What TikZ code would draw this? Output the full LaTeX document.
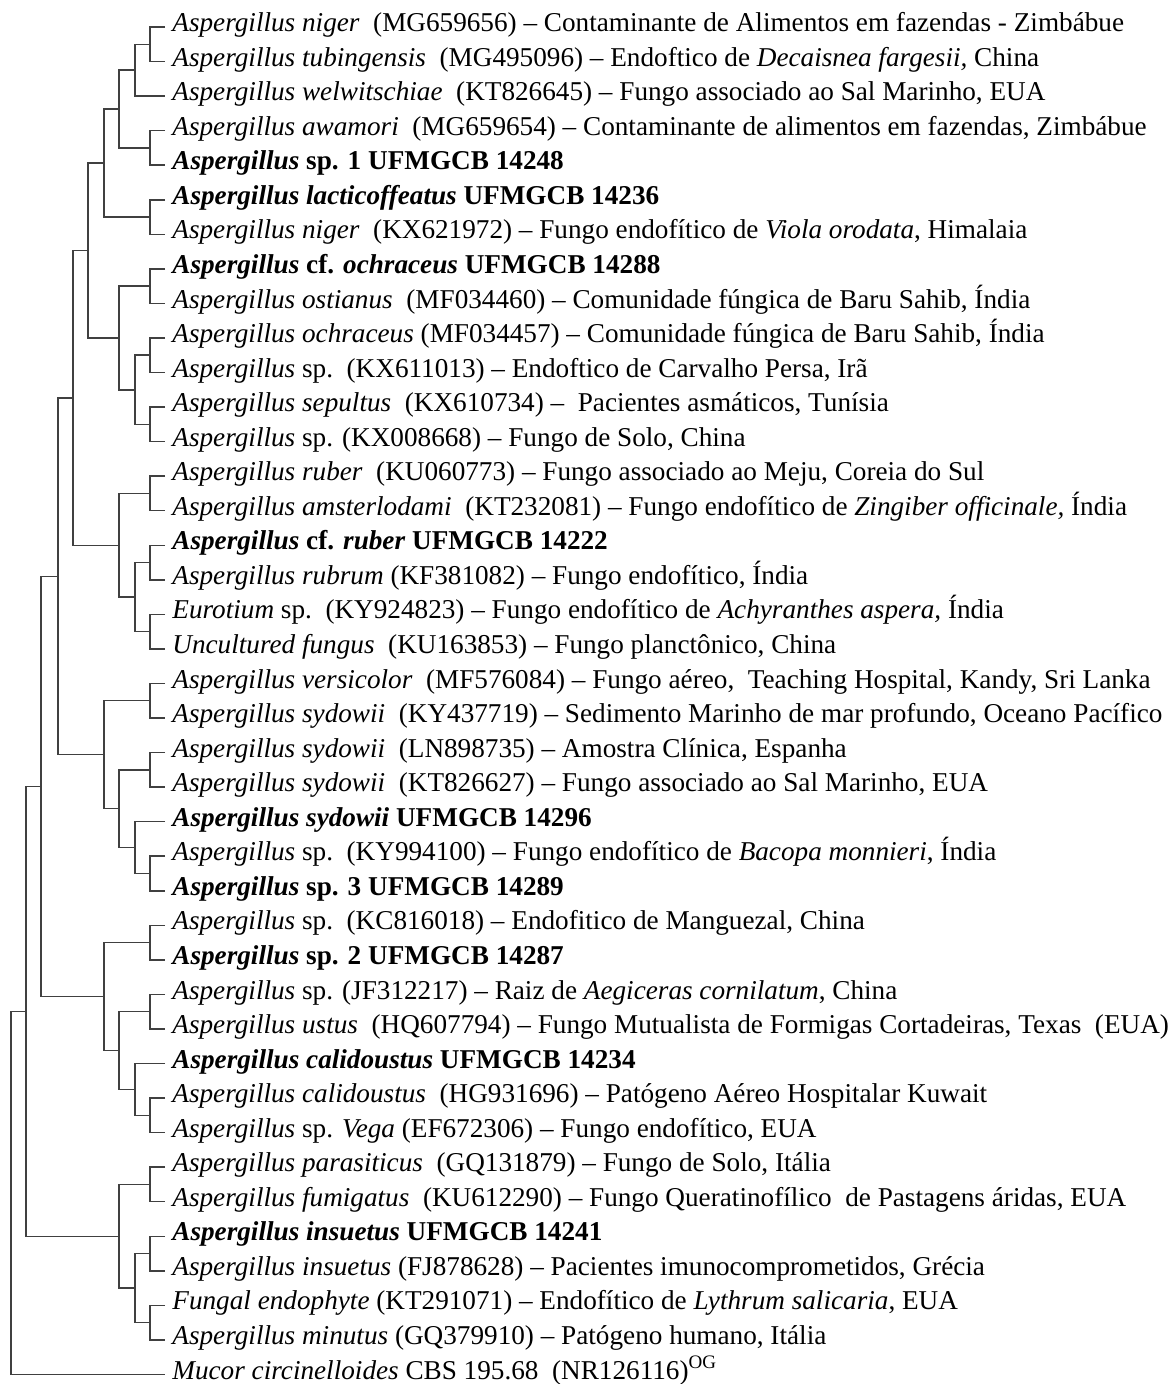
\documentclass[tikz,border=0pt]{standalone}
\usepackage{fontspec}
\setmainfont{Liberation Serif}
\usepackage{tikz}
\usetikzlibrary{positioning}

\begin{document}
\begin{tikzpicture}
[x=0.5pt,y=-17.275pt,
leaf/.style={anchor=mid west,inner xsep=3.5pt,inner ysep=0pt,font=\fontsize{13.6}{16}\selectfont},
branch/.style={draw=black!75,line width=0.75pt}]
\useasboundingbox (0,-0.7815) rectangle (1172,39.276);

% leaves
\node[leaf] (L00) at (165,0) {\textit{Aspergillus niger}\ \ (MG659656) -- Contaminante de Alimentos em fazendas - Zimbábue};
\node[leaf] (L01) at (165,1) {\textit{Aspergillus tubingensis}\ \ (MG495096) -- Endoftico de \textit{Decaisnea fargesii,} China};
\node[leaf] (L02) at (165,2) {\textit{Aspergillus welwitschiae}\ \ (KT826645) -- Fungo associado ao Sal Marinho, EUA};
\node[leaf] (L03) at (165,3) {\textit{Aspergillus awamori}\ \ (MG659654) -- Contaminante de alimentos em fazendas, Zimbábue};
\node[leaf] (L04) at (165,4) {\textbf{\textit{Aspergillus} sp. 1 UFMGCB 14248}};
\node[leaf] (L05) at (165,5) {\textbf{\textit{Aspergillus lacticoffeatus} UFMGCB 14236}};
\node[leaf] (L06) at (165,6) {\textit{Aspergillus niger}\ \ (KX621972) -- Fungo endofítico de \textit{Viola orodata}, Himalaia};
\node[leaf] (L07) at (165,7) {\textbf{\textit{Aspergillus} cf. \textit{ochraceus} UFMGCB 14288}};
\node[leaf] (L08) at (165,8) {\textit{Aspergillus ostianus}\ \ (MF034460) -- Comunidade fúngica de Baru Sahib, Índia};
\node[leaf] (L09) at (165,9) {\textit{Aspergillus ochraceus} (MF034457) -- Comunidade fúngica de Baru Sahib, Índia};
\node[leaf] (L10) at (165,10) {\textit{Aspergillus} sp.\ \ (KX611013) -- Endoftico de Carvalho Persa, Irã};
\node[leaf] (L11) at (165,11) {\textit{Aspergillus sepultus}\ \ (KX610734) --\ \ Pacientes asmáticos, Tunísia};
\node[leaf] (L12) at (165,12) {\textit{Aspergillus} sp. (KX008668) -- Fungo de Solo, China};
\node[leaf] (L13) at (165,13) {\textit{Aspergillus ruber}\ \ (KU060773) -- Fungo associado ao Meju, Coreia do Sul};
\node[leaf] (L14) at (165,14) {\textit{Aspergillus amsterlodami}\ \ (KT232081) -- Fungo endofítico de \textit{Zingiber officinale,} Índia};
\node[leaf] (L15) at (165,15) {\textbf{\textit{Aspergillus} cf. \textit{ruber} UFMGCB 14222}};
\node[leaf] (L16) at (165,16) {\textit{Aspergillus rubrum} (KF381082) -- Fungo endofítico, Índia};
\node[leaf] (L17) at (165,17) {\textit{Eurotium} sp.\ \ (KY924823) -- Fungo endofítico de \textit{Achyranthes aspera,} Índia};
\node[leaf] (L18) at (165,18) {\textit{Uncultured fungus}\ \ (KU163853) -- Fungo planctônico, China};
\node[leaf] (L19) at (165,19) {\textit{Aspergillus versicolor}\ \ (MF576084) -- Fungo aéreo,\ \ Teaching Hospital, Kandy, Sri Lanka};
\node[leaf] (L20) at (165,20) {\textit{Aspergillus sydowii}\ \ (KY437719) -- Sedimento Marinho de mar profundo, Oceano Pacífico};
\node[leaf] (L21) at (165,21) {\textit{Aspergillus sydowii}\ \ (LN898735) -- Amostra Clínica, Espanha};
\node[leaf] (L22) at (165,22) {\textit{Aspergillus sydowii}\ \ (KT826627) -- Fungo associado ao Sal Marinho, EUA};
\node[leaf] (L23) at (165,23) {\textbf{\textit{Aspergillus sydowii} UFMGCB 14296}};
\node[leaf] (L24) at (165,24) {\textit{Aspergillus} sp.\ \ (KY994100) -- Fungo endofítico de \textit{Bacopa monnieri}, Índia};
\node[leaf] (L25) at (165,25) {\textbf{\textit{Aspergillus} sp. 3 UFMGCB 14289}};
\node[leaf] (L26) at (165,26) {\textit{Aspergillus} sp.\ \ (KC816018) -- Endofitico de Manguezal, China};
\node[leaf] (L27) at (165,27) {\textbf{\textit{Aspergillus} sp. 2 UFMGCB 14287}};
\node[leaf] (L28) at (165,28) {\textit{Aspergillus} sp. (JF312217) -- Raiz de \textit{Aegiceras cornilatum}, China};
\node[leaf] (L29) at (165,29) {\textit{Aspergillus ustus}\ \ (HQ607794) -- Fungo Mutualista de Formigas Cortadeiras, Texas\ \ (EUA)};
\node[leaf] (L30) at (165,30) {\textbf{\textit{Aspergillus calidoustus} UFMGCB 14234}};
\node[leaf] (L31) at (165,31) {\textit{Aspergillus calidoustus}\ \ (HG931696) -- Patógeno Aéreo Hospitalar Kuwait};
\node[leaf] (L32) at (165,32) {\textit{Aspergillus} sp. \textit{Vega} (EF672306) -- Fungo endofítico, EUA};
\node[leaf] (L33) at (165,33) {\textit{Aspergillus parasiticus}\ \ (GQ131879) -- Fungo de Solo, Itália};
\node[leaf] (L34) at (165,34) {\textit{Aspergillus fumigatus}\ \ (KU612290) -- Fungo Queratinofílico\ \ de Pastagens áridas, EUA};
\node[leaf] (L35) at (165,35) {\textbf{\textit{Aspergillus insuetus} UFMGCB 14241}};
\node[leaf] (L36) at (165,36) {\textit{Aspergillus insuetus} (FJ878628) -- Pacientes imunocomprometidos, Grécia};
\node[leaf] (L37) at (165,37) {\textit{Fungal endophyte} (KT291071) -- Endofítico de \textit{Lythrum salicaria}, EUA};
\node[leaf] (L38) at (165,38) {\textit{Aspergillus minutus} (GQ379910) -- Patógeno humano, Itália};
\node[leaf] (L39) at (165,39) {\textit{Mucor circinelloides} CBS 195.68\ \ (NR126116)\textsuperscript{OG}};

% internal nodes
\coordinate (a1) at (150,0.5);
\coordinate (a2) at (135,1.25);
\coordinate (a3) at (150,3.5);
\coordinate (a4) at (119,2.375);
\coordinate (a5) at (150,5.5);
\coordinate (a6) at (104,3.9375);
\coordinate (b1) at (150,7.5);
\coordinate (b2) at (150,9.5);
\coordinate (b3) at (150,11.5);
\coordinate (b4) at (135,10.5);
\coordinate (b5) at (119,9);
\coordinate (ab) at (88,6.46875);
\coordinate (c1) at (150,13.5);
\coordinate (c2) at (150,15.5);
\coordinate (c3) at (150,17.5);
\coordinate (c4) at (135,16.5);
\coordinate (c5) at (119,15);
\coordinate (abc) at (73,10.734);
\coordinate (d1) at (150,19.5);
\coordinate (d2) at (150,21.5);
\coordinate (d3) at (150,24.5);
\coordinate (d4) at (135,23.75);
\coordinate (d5) at (119,22.625);
\coordinate (d6) at (104,21.0625);
\coordinate (abcd) at (58,15.898);
\coordinate (e1) at (150,26.5);
\coordinate (e2) at (150,28.5);
\coordinate (e3) at (150,31.5);
\coordinate (e4) at (135,30.75);
\coordinate (e5) at (119,29.625);
\coordinate (e6) at (104,28.0625);
\coordinate (abcde) at (41,21.98);
\coordinate (f1) at (150,33.5);
\coordinate (f2) at (150,35.5);
\coordinate (f3) at (150,37.5);
\coordinate (f4) at (135,36.5);
\coordinate (f5) at (119,35);
\coordinate (ing) at (26,28.49);
\coordinate (root) at (11,33.745);

% branches
\draw [branch] (L00.mid west) -| (a1) |- (L01.mid west);
\draw [branch] (a1) -| (a2) |- (L02.mid west);
\draw [branch] (L03.mid west) -| (a3) |- (L04.mid west);
\draw [branch] (a2) -| (a4) |- (a3);
\draw [branch] (L05.mid west) -| (a5) |- (L06.mid west);
\draw [branch] (a4) -| (a6) |- (a5);
\draw [branch] (L07.mid west) -| (b1) |- (L08.mid west);
\draw [branch] (L09.mid west) -| (b2) |- (L10.mid west);
\draw [branch] (L11.mid west) -| (b3) |- (L12.mid west);
\draw [branch] (b2) -| (b4) |- (b3);
\draw [branch] (b1) -| (b5) |- (b4);
\draw [branch] (a6) -| (ab) |- (b5);
\draw [branch] (L13.mid west) -| (c1) |- (L14.mid west);
\draw [branch] (L15.mid west) -| (c2) |- (L16.mid west);
\draw [branch] (L17.mid west) -| (c3) |- (L18.mid west);
\draw [branch] (c2) -| (c4) |- (c3);
\draw [branch] (c1) -| (c5) |- (c4);
\draw [branch] (ab) -| (abc) |- (c5);
\draw [branch] (L19.mid west) -| (d1) |- (L20.mid west);
\draw [branch] (L21.mid west) -| (d2) |- (L22.mid west);
\draw [branch] (L24.mid west) -| (d3) |- (L25.mid west);
\draw [branch] (L23.mid west) -| (d4) |- (d3);
\draw [branch] (d2) -| (d5) |- (d4);
\draw [branch] (d1) -| (d6) |- (d5);
\draw [branch] (abc) -| (abcd) |- (d6);
\draw [branch] (L26.mid west) -| (e1) |- (L27.mid west);
\draw [branch] (L28.mid west) -| (e2) |- (L29.mid west);
\draw [branch] (L31.mid west) -| (e3) |- (L32.mid west);
\draw [branch] (L30.mid west) -| (e4) |- (e3);
\draw [branch] (e2) -| (e5) |- (e4);
\draw [branch] (e1) -| (e6) |- (e5);
\draw [branch] (abcd) -| (abcde) |- (e6);
\draw [branch] (L33.mid west) -| (f1) |- (L34.mid west);
\draw [branch] (L35.mid west) -| (f2) |- (L36.mid west);
\draw [branch] (L37.mid west) -| (f3) |- (L38.mid west);
\draw [branch] (f2) -| (f4) |- (f3);
\draw [branch] (f1) -| (f5) |- (f4);
\draw [branch] (abcde) -| (ing) |- (f5);
\draw [branch] (ing) -| (root) |- (L39.mid west);
\end{tikzpicture}
\end{document}
